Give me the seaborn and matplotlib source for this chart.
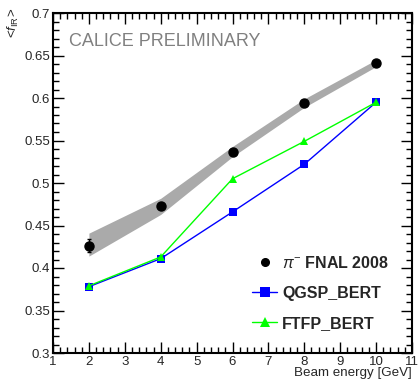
import numpy as np
import pandas as pd
import matplotlib
matplotlib.use("Agg")
import matplotlib.pyplot as plt
from matplotlib.lines import Line2D
from matplotlib.ticker import MultipleLocator
import seaborn as sns

energy = [2, 4, 6, 8, 10]
data_vals = [0.426, 0.473, 0.537, 0.594, 0.641]
data_err = [0.0077, 0.0, 0.0, 0.0, 0.0]
band_lo = [0.414, 0.463, 0.531, 0.589, 0.637]
band_hi = [0.441, 0.482, 0.543, 0.599, 0.645]
qgsp_vals = [0.378, 0.411, 0.466, 0.522, 0.595]
ftfp_vals = [0.379, 0.413, 0.505, 0.549, 0.595]

sns.set_style("ticks")
plt.rcParams['font.family'] = ['Liberation Sans', 'DejaVu Sans']
plt.rcParams['mathtext.fontset'] = 'custom'
plt.rcParams['mathtext.rm'] = 'Liberation Sans'
plt.rcParams['mathtext.it'] = 'Liberation Sans:italic'
plt.rcParams['mathtext.bf'] = 'Liberation Sans:bold'

fig = plt.figure(figsize=(4.19, 3.83), dpi=100)
ax = fig.add_axes([53/419, 30/383, (412-53)/419, (353-13)/383])

ax.fill_between(energy, band_lo, band_hi, color='#aaaaaa', linewidth=0, zorder=1)

df = pd.DataFrame({
    'energy': energy * 2,
    'value': qgsp_vals + ftfp_vals,
    'model': ['QGSP_BERT'] * 5 + ['FTFP_BERT'] * 5,
})
sns.lineplot(data=df, x='energy', y='value', hue='model', style='model',
             palette={'QGSP_BERT': '#0000ff', 'FTFP_BERT': '#00ff00'},
             markers={'QGSP_BERT': 's', 'FTFP_BERT': '^'}, dashes=False,
             markersize=6, markeredgewidth=0, linewidth=1.0, ax=ax,
             legend=False, zorder=2)

ax.errorbar(energy, data_vals, yerr=data_err, fmt='o', color='black',
            markersize=6.5, elinewidth=1, capsize=1.5, zorder=3)

ax.set_xlim(1, 11)
ax.set_ylim(0.3, 0.7)
ax.xaxis.set_minor_locator(MultipleLocator(0.2))
ax.yaxis.set_minor_locator(MultipleLocator(0.01))
ax.set_yticks(np.arange(0.3, 0.7001, 0.05))
ax.set_yticklabels(['0.3', '0.35', '0.4', '0.45', '0.5', '0.55', '0.6', '0.65', '0.7'])
ax.set_xticks(range(1, 12))
ax.set_xticklabels([str(i) for i in range(1, 12)])
ax.tick_params(which='both', direction='in', top=True, right=True,
               labeltop=False, labelright=False, color='black', width=1)
ax.tick_params(which='major', length=8, labelsize=9.5, pad=2)
ax.tick_params(which='minor', length=4)
for s in ax.spines.values():
    s.set_linewidth(1.5)
    s.set_color('black')
ax.set_xlabel('')
ax.set_ylabel('')

fig.text(412/419, 4/383, 'Beam energy [GeV]', ha='right', va='bottom', fontsize=9.6)
fig.text(13/419, 1 - 8/383, r'<$\mathit{f}_{\rm IR}$>', rotation=90,
         ha='center', va='top', fontsize=9.5)
ax.text(0.045, 0.915, 'CALICE PRELIMINARY', transform=ax.transAxes,
        color='#808080', fontsize=13, ha='left', va='center')

handles = [
    Line2D([], [], color='black', marker='o', linestyle='none', markersize=5.5),
    Line2D([], [], color='#0000ff', marker='s', markersize=6.5, markeredgewidth=0, linewidth=1),
    Line2D([], [], color='#00ff00', marker='^', markersize=6.5, markeredgewidth=0, linewidth=1),
]
labels = [r'$\pi^{-}$ FNAL 2008', 'QGSP_BERT', 'FTFP_BERT']
leg = ax.legend(handles, labels, loc='lower left', bbox_to_anchor=(0.554, 0.065),
                frameon=False, prop={'weight': 'bold', 'size': 11.5},
                handlelength=1.6, handletextpad=0.3, labelspacing=0.95,
                borderpad=0, borderaxespad=0)
fig.savefig('out.png', dpi=100)
